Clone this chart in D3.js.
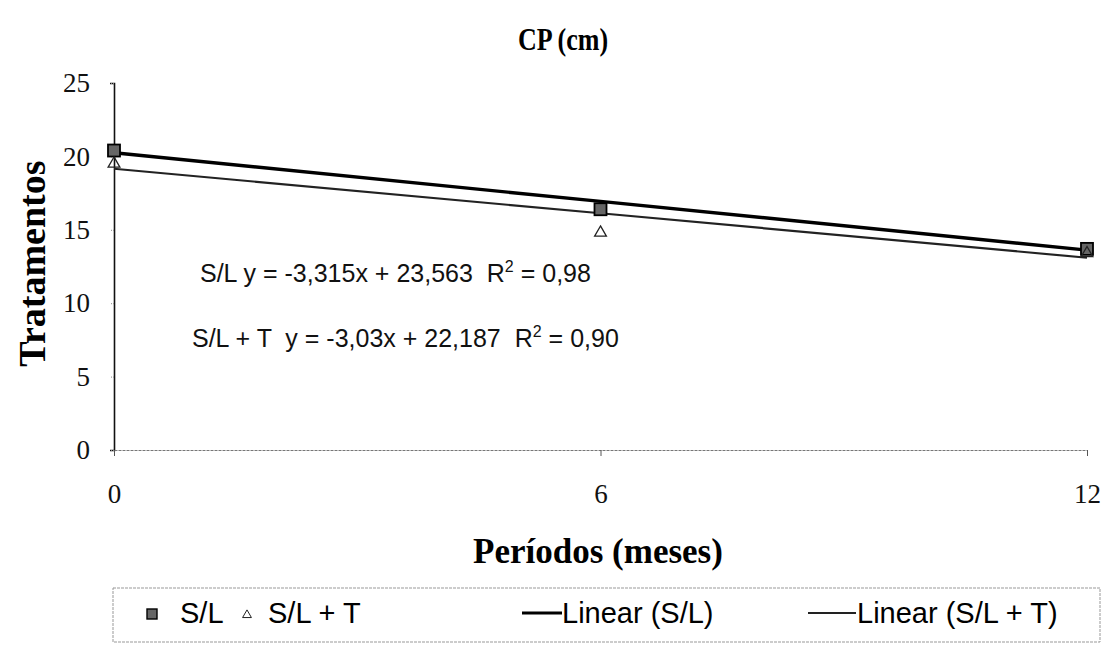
<!DOCTYPE html>
<html lang="pt">
<head>
<meta charset="UTF-8" />
<title>CP (cm)</title>
<script src="https://cdn.jsdelivr.net/npm/d3@7/dist/d3.min.js"></script>
<style>
    body { margin: 0; background: #fff; overflow: hidden; }
    .serif { font-family: "Liberation Serif", "Times New Roman", serif; }
    .sans { font-family: "Liberation Sans", Arial, sans-serif; white-space: pre; }
</style>
</head>
<body>
<svg width="1108" height="645"></svg>
<script>
    // data
    const periods = [0, 6, 12];
    const slValues = [20.4, 16.4, 13.7];
    const sltValues = [19.5, 14.8, 13.4];
    const yTicks = [0, 5, 10, 15, 20, 25];
    // trend equations (x = period index, 1..3)
    const slTrend = { slope: -3.315, intercept: 23.563 };
    const sltTrend = { slope: -3.03, intercept: 22.187 };

    const svg = d3.select("svg");

    const x = d3.scaleLinear().domain([0, 12]).range([114, 1087]);
    const y = d3.scaleLinear().domain([0, 25]).range([450, 83]);

    // title (slightly tall, like the scanned original)
    svg.append("text").attr("class", "serif")
        .attr("transform", "translate(563,50) scale(1,1.2)")
        .attr("text-anchor", "middle")
        .style("font-size", "26px").style("font-weight", "bold")
        .text("CP (cm)");

    // y axis
    const yAxis = d3.axisLeft(y).tickValues(yTicks).tickSize(4).tickPadding(20);
    const gy = svg.append("g").attr("transform", `translate(${x(0)},0)`).call(yAxis);
    gy.select(".domain").attr("stroke", "#111").attr("stroke-width", 1.6);
    gy.selectAll(".tick line").attr("stroke", "#888").attr("stroke-dasharray", "1,1");
    gy.selectAll(".tick text").attr("class", "serif")
        .style("font-size", "27px").attr("fill", "#111");

    // x axis
    const xAxis = d3.axisBottom(x).tickValues(periods).tickSize(6).tickPadding(28).tickSizeOuter(0);
    const gx = svg.append("g").attr("transform", `translate(0,${y(0)})`).call(xAxis);
    gx.select(".domain").attr("stroke", "#777").attr("stroke-width", 1).attr("stroke-dasharray", "3,1");
    gx.selectAll(".tick line").attr("stroke", "#555");
    gx.selectAll(".tick text").attr("class", "serif")
        .style("font-size", "27px").attr("fill", "#111");

    // axis titles
    svg.append("text").attr("class", "serif")
        .attr("transform", `translate(45,${y(12.7)}) rotate(-90)`)
        .attr("text-anchor", "middle")
        .style("font-size", "38px").style("font-weight", "bold")
        .text("Tratamentos");

    svg.append("text").attr("class", "serif")
        .attr("x", 598).attr("y", 563)
        .attr("text-anchor", "middle")
        .style("font-size", "35px").style("font-weight", "bold")
        .text("Períodos (meses)");

    // trend lines
    function trendLine(t) {
        return periods.map((p, i) => [x(p), y(t.slope * (i + 1) + t.intercept)]);
    }
    const line = d3.line();
    svg.append("path").attr("d", line(trendLine(sltTrend)))
        .attr("fill", "none").attr("stroke", "#222").attr("stroke-width", 2.2);
    svg.append("path").attr("d", line(trendLine(slTrend)))
        .attr("fill", "none").attr("stroke", "#000").attr("stroke-width", 3.4);

    // markers
    svg.selectAll(".sq").data(slValues).enter().append("rect")
        .attr("x", (d, i) => x(periods[i]) - 6)
        .attr("y", d => y(d) - 6)
        .attr("width", 12).attr("height", 12)
        .attr("fill", "#666").attr("stroke", "#000").attr("stroke-width", 1.8);

    const tri = d3.symbol().type(d3.symbolTriangle).size(60);
    svg.selectAll(".tri").data(sltValues).enter().append("path")
        .attr("d", tri)
        .attr("transform", (d, i) => `translate(${x(periods[i])},${y(d)})`)
        .attr("fill", "none").attr("stroke", "#222").attr("stroke-width", 1.3);

    // equations
    const eq1 = svg.append("text").attr("class", "sans")
        .attr("x", 200).attr("y", 282).style("font-size", "25px").attr("fill", "#111");
    eq1.append("tspan").text("S/L y = -3,315x + 23,563  R");
    eq1.append("tspan").attr("dy", -10).style("font-size", "16px").text("2");
    eq1.append("tspan").attr("dy", 10).text(" = 0,98");

    const eq2 = svg.append("text").attr("class", "sans")
        .attr("x", 192).attr("y", 347).style("font-size", "25px").attr("fill", "#111");
    eq2.append("tspan").text("S/L + T  y = -3,03x + 22,187  R");
    eq2.append("tspan").attr("dy", -10).style("font-size", "16px").text("2");
    eq2.append("tspan").attr("dy", 10).text(" = 0,90");

    // legend
    const lg = svg.append("g");
    lg.append("rect").attr("x", 113).attr("y", 588).attr("width", 987).attr("height", 54)
        .attr("fill", "none").attr("stroke", "#999").attr("stroke-width", 1).attr("stroke-dasharray", "3,1");
    const ly = 613;
    const lfs = "29px";
    lg.append("rect").attr("x", 147).attr("y", ly - 4).attr("width", 10).attr("height", 10)
        .attr("fill", "#666").attr("stroke", "#000").attr("stroke-width", 1.4);
    lg.append("text").attr("class", "sans").attr("x", 180).attr("y", ly + 10)
        .style("font-size", lfs).text("S/L");
    lg.append("path").attr("d", d3.symbol().type(d3.symbolTriangle).size(34))
        .attr("transform", `translate(247,${ly + 2})`)
        .attr("fill", "none").attr("stroke", "#222").attr("stroke-width", 1);
    lg.append("text").attr("class", "sans").attr("x", 268).attr("y", ly + 10)
        .style("font-size", lfs).text("S/L + T");
    lg.append("line").attr("x1", 522).attr("x2", 562).attr("y1", ly).attr("y2", ly)
        .attr("stroke", "#000").attr("stroke-width", 3);
    lg.append("text").attr("class", "sans").attr("x", 562).attr("y", ly + 10)
        .style("font-size", lfs).text("Linear (S/L)");
    lg.append("line").attr("x1", 808).attr("x2", 856).attr("y1", ly).attr("y2", ly)
        .attr("stroke", "#222").attr("stroke-width", 1.8);
    lg.append("text").attr("class", "sans").attr("x", 857).attr("y", ly + 10)
        .style("font-size", lfs).text("Linear (S/L + T)");
</script>
</body>
</html>
